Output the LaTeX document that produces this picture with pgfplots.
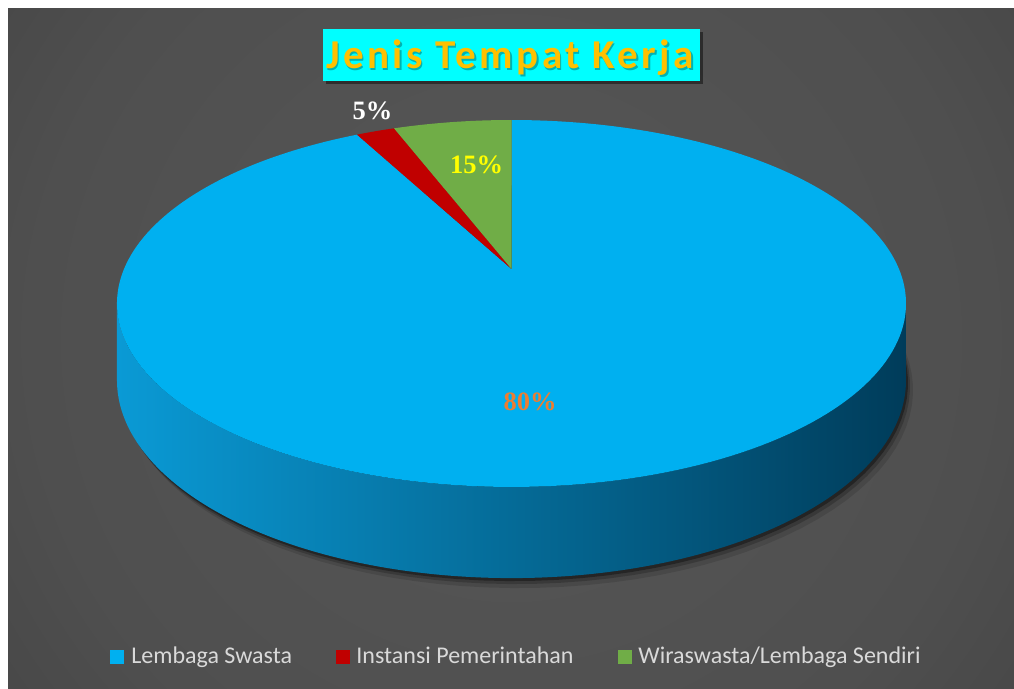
\documentclass[border=0pt]{standalone}
\usepackage{pgfplots}
\pgfplotsset{compat=1.18}
\usepackage{pgfplotstable}
\usepackage{fontspec}
\setmainfont{Carlito}
\newfontfamily\titlefont[LetterSpace=8.5]{Carlito}
\newfontfamily\labfont{Liberation Serif}
\definecolor{cBlue}{HTML}{00B0F0}
\definecolor{cRed}{HTML}{C00000}
\definecolor{cGreen}{HTML}{70AD47}
\definecolor{sideL}{HTML}{0A9AD5}
\definecolor{sideM}{HTML}{00658E}
\definecolor{sideR}{HTML}{003C5A}
\definecolor{titleCyan}{HTML}{00FFFF}
\definecolor{titleGold}{HTML}{FFC000}
\definecolor{legText}{HTML}{D9D9D9}
\definecolor{lab80}{HTML}{ED7D31}
\definecolor{lab15}{HTML}{FFFF00}
\pgfdeclareradialshading{bgshade}{\pgfpoint{0bp}{0bp}}{%
  color(0bp)=(black!66!white); color(17.6bp)=(black!69!white);
  color(26.5bp)=(black!73.5!white); color(33.5bp)=(black!79!white);
  color(44bp)=(black!84!white); color(50bp)=(black!85!white)}
\pgfplotstableread{
label value
LembagaSwasta 92.3
InstansiPemerintahan 1.9
Wiraswasta 5.8
}\piedata
\tikzset{declare function={
  pw(\t)=1+0.188*sin(\t);
  px(\t)=511.5+387.5*cos(\t)/pw(\t);
  py(\t)=420+177*sin(\t)/pw(\t);
  pyb(\t)=py(\t)-74/pw(\t);
  thside(\u)=(\u<=158.4)?(-169.2+\u):(147.6-\u);
  sflag(\u)=(\u>158.4);
}}
\begin{document}
\begin{tikzpicture}
\pgfplotstablegetelem{0}{value}\of\piedata\let\va\pgfplotsretval
\pgfplotstablegetelem{1}{value}\of\piedata\let\vb\pgfplotsretval
\pgfplotstablegetelem{2}{value}\of\piedata\let\vc\pgfplotsretval
\pgfmathsetmacro\aA{90}
\pgfmathsetmacro\aB{90-3.6*\va}
\pgfmathsetmacro\aC{\aB-3.6*\vb}
\pgfmathsetmacro\aD{\aC-3.6*\vc}
\useasboundingbox (0,0) rectangle (507pt,344.5pt);
\begin{axis}[at={(0,0)}, anchor=south west, width=507pt, height=344.5pt, scale only axis,
  xmin=0, xmax=1014, ymin=0, ymax=689, hide axis, xtick=\empty, ytick=\empty,
  clip=false, no markers]
% page and background
\fill[white] (axis cs:0,0) rectangle (axis cs:1014,689);
\begin{scope}
\clip (axis cs:8,0) rectangle (axis cs:1014,680);
\fill[overlay, shading=bgshade] (axis cs:511,350) circle[radius=340pt];
\end{scope}
% shadow
\addplot[fill=black, fill opacity=0.12, draw=none, domain=0:360, samples=120, variable=\t] ({px(t)+7}, {pyb(t)-10}) -- cycle;
\addplot[fill=black, fill opacity=0.2, draw=none, domain=0:360, samples=120, variable=\t] ({px(t)+4}, {pyb(t)-6}) -- cycle;
\addplot[fill=black, fill opacity=0.35, draw=none, domain=0:360, samples=120, variable=\t] ({px(t)+2}, {pyb(t)-3}) -- cycle;
% side
\addplot[draw=none, left color=sideL, middle color=sideM, right color=sideR, domain=0:316.8, samples=353, variable=\t]
  ({px(thside(t))}, {py(thside(t))-sflag(t)*74/pw(thside(t))}) -- cycle;
% top face slices
\addplot[fill=cBlue, draw=none, domain=\aB:\aA, samples=220, variable=\t] ({px(t)}, {py(t)}) -- (axis cs:511.5,420) -- cycle;
\addplot[fill=cRed, draw=none, domain=\aC:\aB, samples=20, variable=\t] ({px(t)}, {py(t)}) -- (axis cs:511.5,420) -- cycle;
\addplot[fill=cGreen, draw=none, domain=\aD:\aC, samples=30, variable=\t] ({px(t)}, {py(t)}) -- (axis cs:511.5,420) -- cycle;
% data labels
\node[anchor=base, inner sep=0, text=white, font={\labfont\fontsize{13.25pt}{15pt}\selectfont\bfseries}] at (axis cs:372.5,569) {5\%};
\node[anchor=base, inner sep=0, text=lab15, font={\labfont\fontsize{13.25pt}{15pt}\selectfont\bfseries}] at (axis cs:476.5,515) {15\%};
\node[anchor=base, inner sep=0, text=lab80, font={\labfont\fontsize{13.25pt}{15pt}\selectfont\bfseries}] at (axis cs:530,278) {80\%};
% title
\fill[black, opacity=0.45] (axis cs:326,605) rectangle (axis cs:703,657);
\fill[titleCyan] (axis cs:323,608) rectangle (axis cs:700,660);
\node[anchor=base, inner sep=0, text=black, opacity=0.3, font={\titlefont\fontsize{20.5pt}{24pt}\selectfont\bfseries}] at (axis cs:511.5,618.5) {Jenis Tempat Kerja};
\node[anchor=base, inner sep=0, text=titleGold, font={\titlefont\fontsize{20.5pt}{24pt}\selectfont\bfseries}] at (axis cs:510,620) {Jenis Tempat Kerja};
% legend
\fill[cBlue] (axis cs:110,25) rectangle (axis cs:124,39);
\fill[cRed] (axis cs:336,25) rectangle (axis cs:350,39);
\fill[cGreen] (axis cs:618,25) rectangle (axis cs:632,39);
\node[anchor=base west, inner sep=0, text=legText, font={\fontsize{12pt}{14pt}\selectfont}] at (axis cs:131,25) {Lembaga Swasta};
\node[anchor=base west, inner sep=0, text=legText, font={\fontsize{12pt}{14pt}\selectfont}] at (axis cs:356,25) {Instansi Pemerintahan};
\node[anchor=base west, inner sep=0, text=legText, font={\fontsize{12pt}{14pt}\selectfont}] at (axis cs:638,25) {Wiraswasta/Lembaga Sendiri};
\end{axis}
\end{tikzpicture}
\end{document}
